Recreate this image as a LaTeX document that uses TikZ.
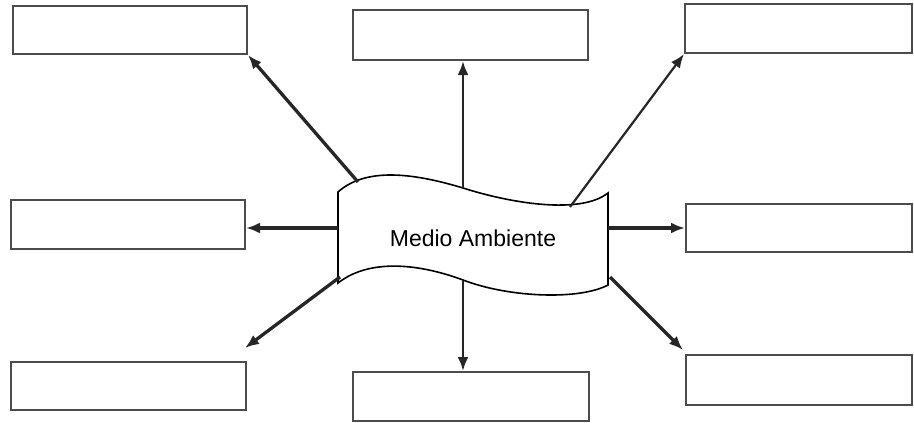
\documentclass[tikz,border=0pt]{standalone}
\usepackage{fontspec}
\setmainfont{Liberation Sans}
\usetikzlibrary{arrows.meta,positioning}

\begin{document}
\begin{tikzpicture}[x=1pt,y=-1pt,
  caja/.style={draw=black!70, line width=2pt, minimum width=234pt, minimum height=48pt, inner sep=0pt},
  flecha/.style={-{Latex[length=14pt,width=11pt]}, line width=3.3pt, black!85}]
  \useasboundingbox (0,0) rectangle (914,423);

  % cajas vacias
  \node[caja] (tl) at (130,30) {};
  \node[caja, minimum width=235pt, minimum height=50pt] (tc) at (470.5,35) {};
  \node[caja, minimum width=227pt, minimum height=49pt] (tr) at (798.5,28.5) {};
  \node[caja, minimum height=49pt] (ml) at (128,224.5) {};
  \node[caja, minimum width=226pt] (mr) at (799,228) {};
  \node[caja, minimum width=235pt] (bl) at (128.5,386) {};
  \node[caja, minimum width=236pt, minimum height=49pt] (bc) at (471,396.5) {};
  \node[caja, minimum width=226pt, minimum height=50pt] (br) at (799,380) {};

  % la bandera del centro
  \draw[line width=1.6pt, fill=white] (338,192) .. controls (365,168) and (410,172) .. (463,188)
    .. controls (510,203) and (580,215) .. (608,193) -- (608,285)
    .. controls (580,300) and (510,298) .. (463,280)
    .. controls (420,264) and (370,258) .. (338,283) -- cycle;
  \node[font=\fontsize{23}{26}\selectfont] (medio) at (473,238) {Medio Ambiente};

  \coordinate (a1) at (358,182);
  \coordinate (a2) at (463,188);
  \coordinate (a3) at (570,207);
  \coordinate (a4) at (338,228);
  \coordinate (a5) at (608,228);
  \coordinate (a6) at (340,277);
  \coordinate (a7) at (463,281);
  \coordinate (a8) at (610,277);
  \coordinate (p6) at (245,348);
  \coordinate (p8) at (683,350);

  \draw[flecha] (a1) -- (tl.south east);
  \draw[flecha, line width=2.7pt] (a2) -- (a2 |- tc.south);
  \draw[flecha, line width=2.2pt] (a3) -- (tr.south west);
  \draw[flecha] (a4) -- (a4 -| ml.east);
  \draw[flecha] (a5) -- (a5 -| mr.west);
  \draw[flecha] (a6) -- (p6);
  \draw[flecha, line width=2.7pt] (a7) -- (a7 |- bc.north);
  \draw[flecha] (a8) -- (p8);
\end{tikzpicture}
\end{document}
